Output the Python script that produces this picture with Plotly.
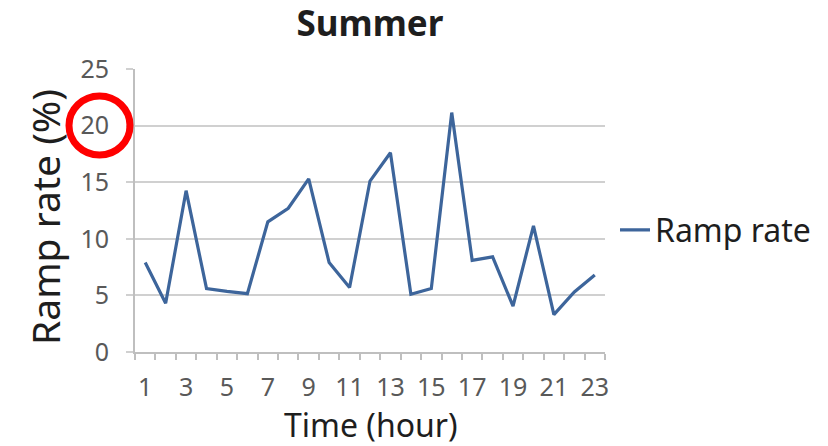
import plotly.graph_objects as go

# Hourly ramp rate for the summer profile
hours = list(range(1, 24))
ramp_rate = [7.9, 4.3, 14.25, 5.6, 5.35, 5.15, 11.5, 12.7, 15.3, 7.9, 5.7,
             15.1, 17.6, 5.1, 5.6, 21.15, 8.1, 8.4, 4.05, 11.15, 3.3, 5.3, 6.8]
x_tick_hours = list(range(1, 24, 2))
y_ticks = [0, 5, 10, 15, 20, 25]

FONT = "Noto Sans"
TICK_GRAY = "#595959"
TEXT = "#1e1e1e"

# plot area in pixels
L, R, T, B = 135, 605, 69, 352
W, H = 828, 446


def px_to_paper_x(px):
    return (px - L) / (R - L)


def px_to_paper_y(py):
    return (B - py) / (B - T)


fig = go.Figure()
fig.add_trace(go.Scatter(
    x=hours, y=ramp_rate, mode="lines", name="Ramp rate",
    line=dict(color="#3d659b", width=3.2),
))

fig.update_layout(
    width=W, height=H,
    margin=dict(l=L, r=W - R, t=T, b=H - B, pad=0),
    paper_bgcolor="white", plot_bgcolor="white",
    font=dict(family=FONT, color=TEXT),
    title=dict(text="<b>Summer</b>", x=370 / W, xanchor="center",
               y=1 - 24 / H, yanchor="middle",
               font=dict(size=35, family=FONT, color=TEXT)),
    showlegend=True,
    legend=dict(x=px_to_paper_x(615), y=px_to_paper_y(230),
                xanchor="left", yanchor="middle",
                font=dict(size=32, family=FONT, color=TEXT),
                bgcolor="rgba(0,0,0,0)", itemwidth=30),
    xaxis=dict(
        range=[0.5, 23.5], tickmode="array", tickvals=x_tick_hours,
        ticktext=[str(h) for h in x_tick_hours],
        ticks="", showgrid=False, zeroline=False,
        showline=True, linecolor="#bfbfbf", linewidth=2,
        tickfont=dict(size=25, color=TICK_GRAY, family=FONT),
        ticklabelstandoff=12,
        minor=dict(tickmode="linear", tick0=0.5, dtick=1, ticks="outside",
                   ticklen=6, tickwidth=1.5, tickcolor="#bfbfbf", showgrid=False),
    ),
    yaxis=dict(
        range=[0, 25], tickmode="array", tickvals=y_ticks,
        ticks="outside", ticklen=7, tickwidth=2, tickcolor="#d0d0d0",
        showgrid=True, gridcolor="#d0d0d0", gridwidth=2, zeroline=False,
        showline=True, linecolor="#bfbfbf", linewidth=2,
        tickfont=dict(size=25, color=TICK_GRAY, family=FONT),
        ticklabelstandoff=12,
    ),
    annotations=[
        dict(text="Time (hour)", xref="paper", yref="paper",
             x=px_to_paper_x(371), y=px_to_paper_y(424),
             xanchor="center", yanchor="middle", showarrow=False,
             font=dict(size=32, family=FONT, color=TEXT)),
        dict(text="Ramp rate (%)", xref="paper", yref="paper",
             x=px_to_paper_x(45), y=px_to_paper_y(217),
             xanchor="center", yanchor="middle", showarrow=False, textangle=-90,
             font=dict(size=39, family=FONT, color=TEXT)),
    ],
)

# red ring around the "20" tick label
fig.add_shape(
    type="circle", xref="paper", yref="paper",
    x0=px_to_paper_x(69), x1=px_to_paper_x(130),
    y0=px_to_paper_y(155), y1=px_to_paper_y(96),
    line=dict(color="#ff0000", width=7), fillcolor="rgba(0,0,0,0)",
    layer="above",
)

fig.write_html("out.html")
